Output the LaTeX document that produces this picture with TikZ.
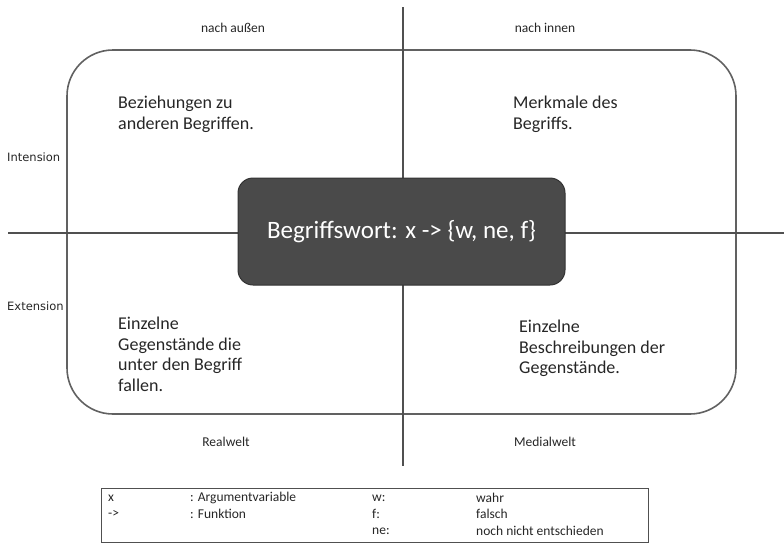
\documentclass[tikz,border=0pt]{standalone}
\usepackage{fontspec}
\setmainfont{Carlito}
\newfontfamily\dejavu{DejaVu Sans}
\definecolor{linegray}{HTML}{505050}
\definecolor{boxgray}{HTML}{4A4A4A}
\definecolor{txt}{HTML}{262626}
\tikzset{
  axis/.style={draw=linegray, line width=2pt},
  frame/.style={draw=linegray!90, line width=1.6pt, rounded corners=46pt},
  centerbox/.style={fill=boxgray, draw=black!80, line width=1pt, rounded corners=15pt, minimum width=327pt, minimum height=107pt, text=white, font=\fontsize{25}{30}\selectfont},
  small/.style={text=txt, font=\fontsize{13.5}{16}\selectfont, inner sep=0pt},
  side/.style={text=txt, font=\dejavu\fontsize{11.5}{14}\selectfont, inner sep=0pt, anchor=west},
  quad/.style={text=txt, font=\fontsize{18}{20.5}\selectfont, align=left, inner sep=0pt, anchor=north west},
  legend/.style={text=txt, font=\fontsize{13.5}{16}\selectfont, inner sep=0pt, anchor=west},
}
\begin{document}
\begin{tikzpicture}[x=1pt,y=-1pt]
\useasboundingbox (0,0) rectangle (784,546);
% axes
\coordinate (vtop) at (403,7);
\coordinate (vbot) at (403,466);
\coordinate (hleft) at (8,233);
\coordinate (hright) at (784,233);
% frame
\draw[frame] (67,50) rectangle (736,414);
\draw[axis] (vtop) -- (vbot);
\draw[axis] (hleft) -- (hright);
% center
\node[centerbox] (center) at (401.5,231.5) {Begriffswort: x -> \{w, ne, f\}};
% labels
\node[small] (aussen) at (233,28) {nach außen};
\node[small] (innen) at (545,28) {nach innen};
\node[side] (intension) at (7,157) {Intension};
\node[side] (extension) at (7,306) {Extension};
\node[small] (real) at (226,442) {Realwelt};
\node[small] (medial) at (545,442) {Medialwelt};
% quadrants
\node[quad] (q1) at (118,96) {Beziehungen zu\\anderen Begriffen.};
\node[quad] (q2) at (513,96) {Merkmale des\\Begriffs.};
\node[quad] (q3) at (118,317) {Einzelne\\Gegenstände die\\unter den Begriff\\fallen.};
\node[quad] (q4) at (519,320) {Einzelne\\Beschreibungen der\\Gegenstände.};
% legend
\node[draw=linegray, line width=0.8pt, minimum width=547pt, minimum height=54pt, inner sep=0pt] (legbox) at (374.5,515) {};
\node[legend] (l1a) at (108,498) {x};
\node[legend] (l1b) at (190,498) {: Argumentvariable};
\node[legend] (l2a) at (108,514) {->};
\node[legend] (l2b) at (190,514) {: Funktion};
\node[legend] (l3a) at (372,498) {w:};
\node[legend] (l3b) at (476,498) {wahr};
\node[legend] (l4a) at (372,514) {f:};
\node[legend] (l4b) at (476,514) {falsch};
\node[legend] (l5a) at (372,531) {ne:};
\node[legend] (l5b) at (476,531) {noch nicht entschieden};
\end{tikzpicture}
\end{document}
